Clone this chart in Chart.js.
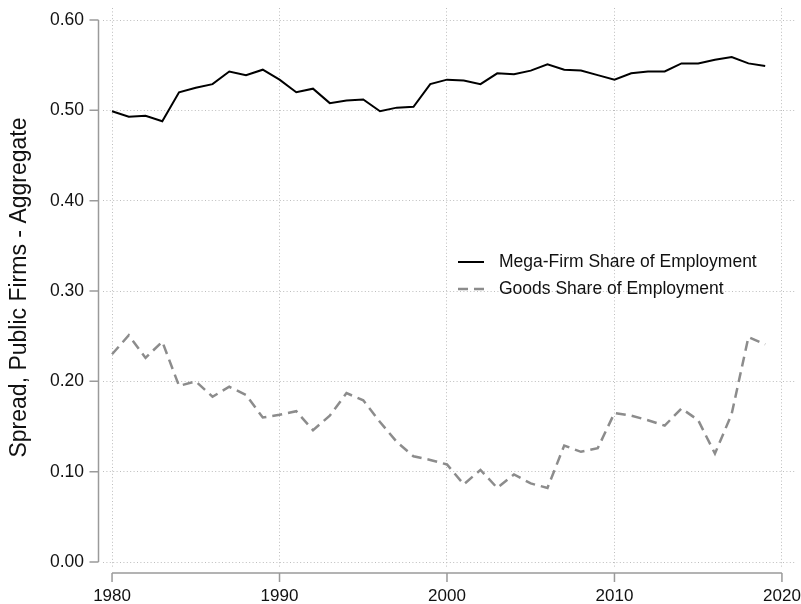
<!DOCTYPE html>
<html>
<head>
<meta charset="utf-8">
<script src="https://cdn.jsdelivr.net/npm/chart.js@4"></script>
<style>
  body { margin: 0; background: #fff; }
  #wrap { position: relative; width: 801px; height: 604px; }
  #leyenda { position: absolute; left: 458px; top: 248px; font-family: "Liberation Sans", Arial, sans-serif; font-size: 17.5px; color: #111; }
  #leyenda .fila { display: flex; align-items: center; height: 27px; }
  #leyenda svg { width: 26px; height: 6px; margin-right: 15px; }
</style>
</head>
<body>
<div id="wrap">
  <canvas id="grafico" width="801" height="604"></canvas>
  <div id="leyenda">
    <div class="fila"><svg><line x1="0" y1="3" x2="26" y2="3" stroke="#000" stroke-width="2"/></svg>Mega-Firm Share of Employment</div>
    <div class="fila"><svg><line x1="0" y1="3" x2="26" y2="3" stroke="#8c8c8c" stroke-width="2.5" stroke-dasharray="10 6"/></svg>Goods Share of Employment</div>
  </div>
</div>
<script>
// datos
const anos = [1980,1981,1982,1983,1984,1985,1986,1987,1988,1989,
              1990,1991,1992,1993,1994,1995,1996,1997,1998,1999,
              2000,2001,2002,2003,2004,2005,2006,2007,2008,2009,
              2010,2011,2012,2013,2014,2015,2016,2017,2018,2019];
const megaFirm = [0.499,0.493,0.494,0.488,0.520,0.525,0.529,0.543,0.539,0.545,
                  0.534,0.520,0.524,0.508,0.511,0.512,0.499,0.503,0.504,0.529,
                  0.534,0.533,0.529,0.541,0.540,0.544,0.551,0.545,0.544,0.539,
                  0.534,0.541,0.543,0.543,0.552,0.552,0.556,0.559,0.552,0.549];
const goods = [0.230,0.251,0.226,0.244,0.195,0.200,0.183,0.194,0.185,0.160,
               0.163,0.167,0.146,0.162,0.187,0.179,0.155,0.133,0.117,0.113,
               0.108,0.086,0.102,0.082,0.097,0.087,0.082,0.129,0.122,0.126,
               0.165,0.162,0.157,0.151,0.170,0.157,0.120,0.164,0.249,0.241];
const xTicks = [1980,1990,2000,2010,2020];
const yTicks = [0,0.1,0.2,0.3,0.4,0.5,0.6];

const fuente = "'Liberation Sans', Arial, sans-serif";
const colorEje = '#9a9a9a';

// ejes estilo Stata, separados del area del grafico
const ejesStata = {
  id: 'ejesStata',
  afterDraw(chart) {
    const ctx = chart.ctx;
    const xs = chart.scales.x, ys = chart.scales.y;
    const area = chart.chartArea;
    const ex = area.left - 4.5;
    const ey = area.bottom + 6;
    ctx.save();
    ctx.strokeStyle = colorEje;
    ctx.lineWidth = 1.5;
    ctx.beginPath();
    ctx.moveTo(ex, ys.getPixelForValue(yTicks[yTicks.length - 1]));
    ctx.lineTo(ex, ys.getPixelForValue(yTicks[0]));
    yTicks.forEach(v => {
      const py = ys.getPixelForValue(v);
      ctx.moveTo(ex - 9, py);
      ctx.lineTo(ex, py);
    });
    ctx.moveTo(xs.getPixelForValue(xTicks[0]), ey);
    ctx.lineTo(xs.getPixelForValue(xTicks[xTicks.length - 1]), ey);
    xTicks.forEach(v => {
      const px = xs.getPixelForValue(v);
      ctx.moveTo(px, ey);
      ctx.lineTo(px, ey + 9);
    });
    ctx.stroke();
    ctx.restore();
  }
};

// sin relleno extra de las etiquetas, el area queda fija
function sinRelleno(s) {
  s.paddingTop = 0; s.paddingBottom = 0; s.paddingLeft = 0; s.paddingRight = 0;
}

new Chart(document.getElementById('grafico'), {
  type: 'line',
  data: {
    datasets: [{
      label: 'Mega-Firm Share of Employment',
      data: anos.map((a, i) => ({x: a, y: megaFirm[i]})),
      borderColor: '#000',
      borderWidth: 2,
      pointRadius: 0,
      tension: 0
    }, {
      label: 'Goods Share of Employment',
      data: anos.map((a, i) => ({x: a, y: goods[i]})),
      borderColor: '#8c8c8c',
      borderWidth: 2.5,
      borderDash: [10, 6],
      pointRadius: 0,
      tension: 0
    }]
  },
  options: {
    responsive: false,
    animation: false,
    layout: { padding: { top: 8, right: 6, left: 0, bottom: 0 } },
    plugins: { legend: { display: false }, tooltip: { enabled: false } },
    scales: {
      x: {
        type: 'linear',
        min: 1979.46,
        max: 2020.78,
        afterBuildTicks: s => { s.ticks = xTicks.map(v => ({value: v})); },
        afterFit: s => { s.height = 37; sinRelleno(s); },
        border: { display: false, dash: [1, 2.4] },
        grid: { color: '#bdbdbd', lineWidth: 1, drawTicks: false },
        ticks: { padding: 19, color: '#111', font: { family: fuente, size: 17 }, callback: v => String(v) }
      },
      y: {
        min: -0.0055,
        max: 0.6133,
        afterBuildTicks: s => { s.ticks = yTicks.map(v => ({value: v})); },
        afterFit: s => { s.width = 103; sinRelleno(s); },
        border: { display: false, dash: [1, 2.4] },
        grid: { color: '#bdbdbd', lineWidth: 1, drawTicks: false },
        ticks: { padding: 19, color: '#111', font: { family: fuente, size: 17.5 }, callback: v => v.toFixed(2) },
        title: { display: true, text: 'Spread, Public Firms - Aggregate', color: '#111', font: { family: fuente, size: 23 }, padding: { top: 6, bottom: 0 } }
      }
    }
  },
  plugins: [ejesStata]
});
</script>
</body>
</html>
